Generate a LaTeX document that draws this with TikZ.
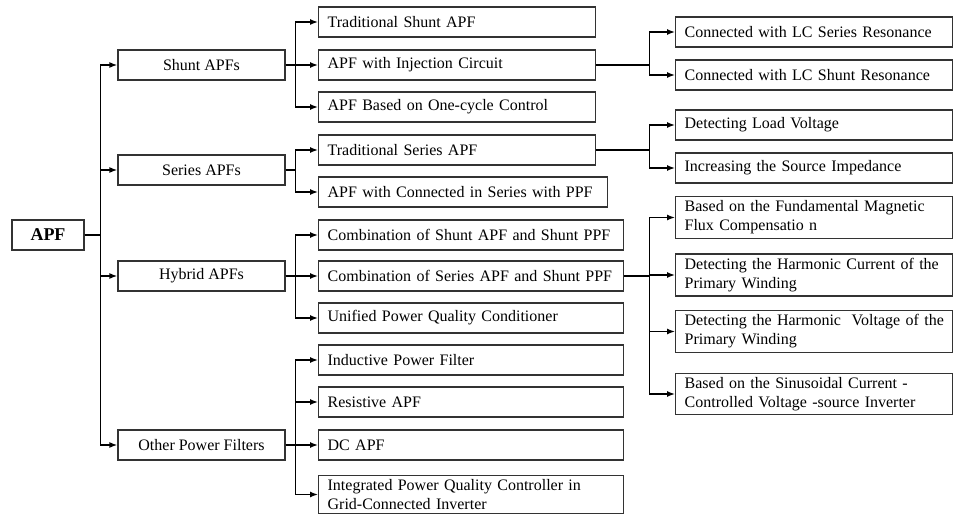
\documentclass[tikz,border=0pt]{standalone}
\usepackage{fontspec}
\setmainfont{Liberation Serif}
\usetikzlibrary{arrows.meta}

\begin{document}
\begin{tikzpicture}[x=1pt,y=-1pt,line width=1.4pt,>={Latex[length=8pt,width=6pt]},
    box/.style={draw=black!80,line width=1.3pt,font=\fontsize{16}{19}\selectfont},
    root/.style={box,minimum width=72pt,minimum height=30pt,font=\fontsize{18}{20}\selectfont\bfseries},
    cat/.style={box,minimum width=167pt,minimum height=30pt},
    leaf/.style={box,anchor=west,text width=#1,align=left,inner xsep=9pt,inner ysep=4pt,minimum height=30pt}]
    \useasboundingbox (0,0) rectangle (954,518);

    % root and categories
    \node[root] (apf) at (48,235) {APF};
    \node[cat] (shunt) at (201.5,65) {Shunt APFs};
    \node[cat] (series) at (201.5,170) {Series APFs};
    \node[cat] (hybrid) at (201.5,276) {Hybrid APFs};
    \node[cat] (other) at (201.5,445) {Other Power Filters};

    % second level
    \node[leaf=259pt] (tradshunt) at (318,22) {Traditional Shunt APF};
    \node[leaf=259pt] (injection) at (318,65) {APF with Injection Circuit};
    \node[leaf=259pt] (onecycle) at (318,107) {APF Based on One-cycle Control};
    \node[leaf=259pt] (tradseries) at (318,150) {Traditional Series APF};
    \node[leaf=271pt] (seriesppf) at (318,192) {APF with Connected in Series with PPF};
    \node[leaf=287pt] (shuntshunt) at (318,235) {Combination of Shunt APF and Shunt PPF};
    \node[leaf=287pt] (seriesshunt) at (318,276) {Combination of Series APF and Shunt PPF};
    \node[leaf=287pt] (upqc) at (318,318) {Unified Power Quality Conditioner};
    \node[leaf=287pt] (inductive) at (318,360) {Inductive Power Filter};
    \node[leaf=287pt] (resistive) at (318,402) {Resistive APF};
    \node[leaf=287pt] (dcapf) at (318,445) {DC APF};
    \node[leaf=287pt] (integrated) at (318,494.5) {Integrated Power Quality Controller in\\Grid-Connected Inverter};

    % third level
    \node[leaf=259pt] (lcseries) at (675,32) {Connected with LC Series Resonance};
    \node[leaf=259pt] (lcshunt) at (675,75) {Connected with LC Shunt Resonance};
    \node[leaf=259pt] (loadvolt) at (675,125) {Detecting Load Voltage};
    \node[leaf=259pt] (sourceimp) at (675,168) {Increasing the Source Impedance};
    \node[leaf=259pt] (fluxcomp) at (675,217.5) {Based on the Fundamental Magnetic\\Flux Compensatio n};
    \node[leaf=259pt] (harmcur) at (675,275) {Detecting the Harmonic Current of the\\Primary Winding};
    \node[leaf=265pt,inner xsep=6pt] (harmvolt) at (675,331.5) {\hspace*{3pt}Detecting the Harmonic\ \ Voltage of the\\\hspace*{3pt}Primary Winding};
    \node[leaf=259pt] (sinus) at (675,394) {Based on the Sinusoidal Current -\\Controlled Voltage -source Inverter};

    \foreach \c in {shunt,series,hybrid,other}
        \draw[->] (apf.east) -- ++(16,0) |- (\c.west);
    \foreach \s in {tradshunt,injection,onecycle}
        \draw[->] (shunt.east) -- ++(10,0) |- (\s.west);
    \foreach \s in {tradseries,seriesppf}
        \draw[->] (series.east) -- ++(10,0) |- (\s.west);
    \foreach \s in {shuntshunt,seriesshunt,upqc}
        \draw[->] (hybrid.east) -- ++(10,0) |- (\s.west);
    \foreach \s in {inductive,resistive,dcapf,integrated}
        \draw[->] (other.east) -- ++(10,0) |- (\s.west);

    \foreach \t in {lcseries,lcshunt}
        \draw[->] (injection.east) -- ++(53,0) |- (\t.west);
    \foreach \t in {loadvolt,sourceimp}
        \draw[->] (tradseries.east) -- ++(53,0) |- (\t.west);
    \foreach \t in {fluxcomp,harmcur,harmvolt,sinus}
        \draw[->] (seriesshunt.east) -- ++(25,0) |- (\t.west);
\end{tikzpicture}
\end{document}
